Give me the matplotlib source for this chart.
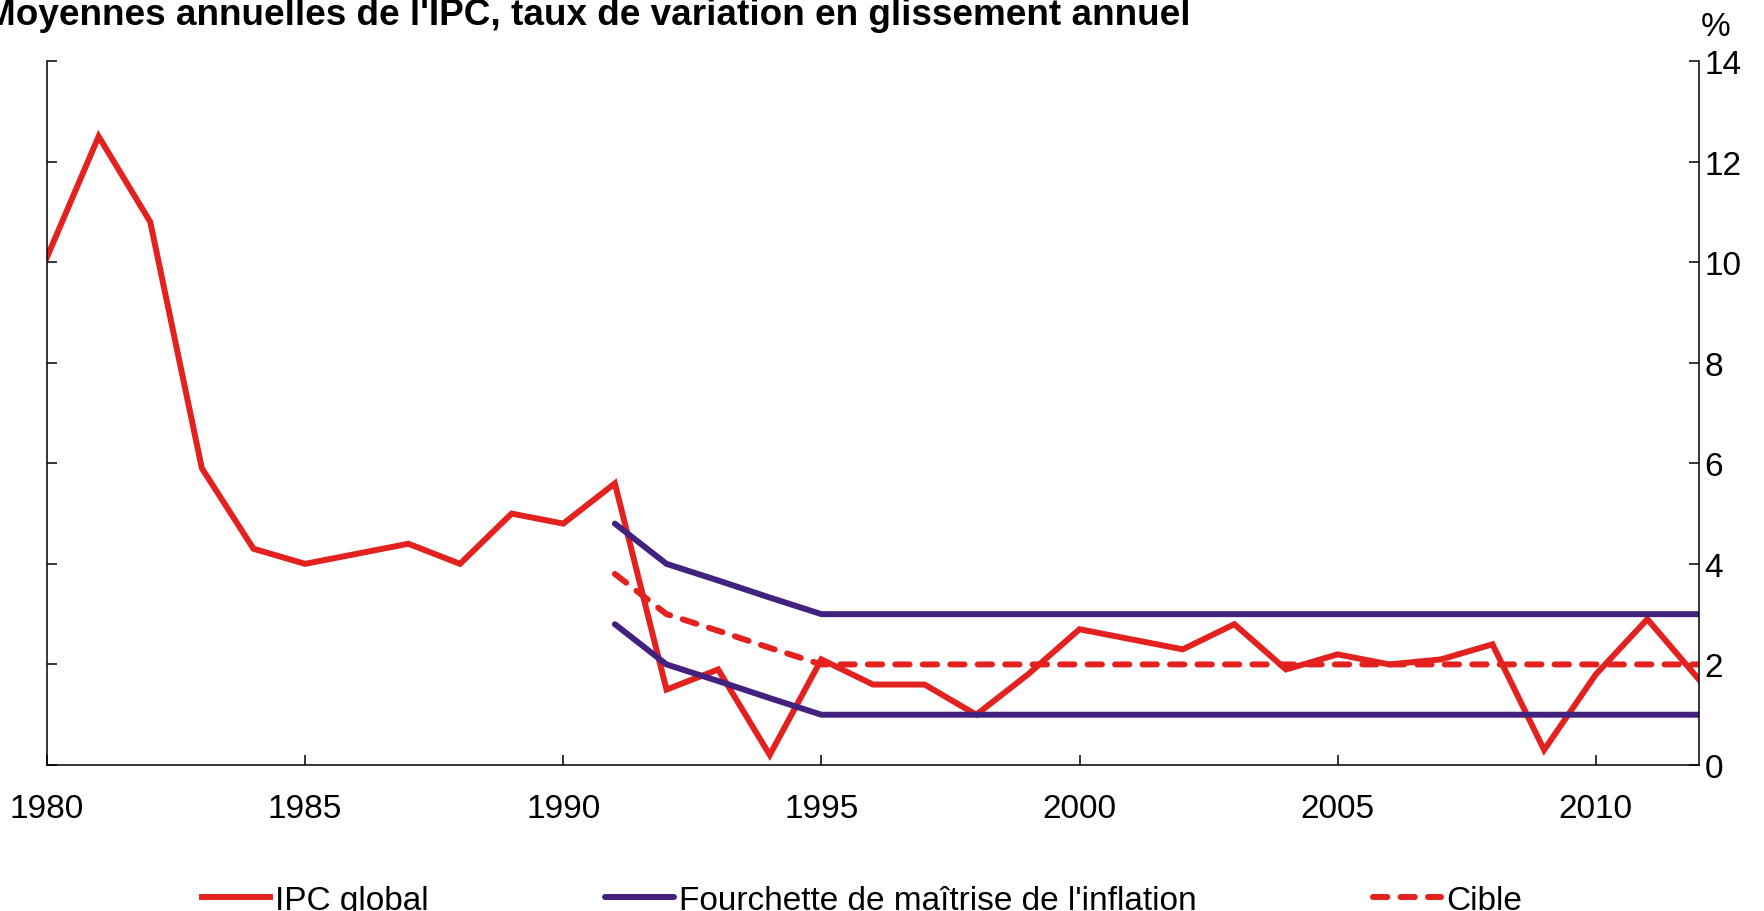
import matplotlib
matplotlib.use('Agg')
import matplotlib.pyplot as plt

years = list(range(1980, 2013))
ipc = [10.1, 12.5, 10.8, 5.9, 4.3, 4.0, 4.2, 4.4, 4.0, 5.0, 4.8, 5.6,
       1.5, 1.9, 0.2, 2.1, 1.6, 1.6, 1.0, 1.8, 2.7, 2.5, 2.3, 2.8,
       1.9, 2.2, 2.0, 2.1, 2.4, 0.3, 1.8, 2.9, 1.7]

band_years = list(range(1991, 2013))
upper = [4.8, 4.0, 3.67, 3.33] + [3.0] * 18
lower = [2.8, 2.0, 1.67, 1.33] + [1.0] * 18
cible = [3.8, 3.0, 2.67, 2.33] + [2.0] * 18

red = '#e3211f'
purple = '#43227f'

plt.rcParams['font.family'] = ['Liberation Sans', 'DejaVu Sans']

fig = plt.figure(figsize=(17.64, 9.12), dpi=100)
ax = fig.add_axes([47 / 1764, 146 / 912, (1699 - 47) / 1764, (766 - 62) / 912])

lw = 4.3
ax.plot(years, ipc, color=red, lw=lw, label='IPC global', solid_joinstyle='miter')
ax.plot(band_years, upper, color=purple, lw=lw, label="Fourchette de maîtrise de l'inflation",
        solid_capstyle='round')
ax.plot(band_years, lower, color=purple, lw=lw, solid_capstyle='round')
ax.plot(band_years, cible, color=red, lw=lw, dashes=(2.4, 2.2), dash_capstyle='round',
        label='Cible')

ax.set_xlim(1980, 2012)
ax.set_ylim(0, 14)
ax.set_xticks(range(1980, 2011, 5))
ax.set_yticks(range(0, 15, 2))

ax.spines['top'].set_visible(False)
for s in ['left', 'right', 'bottom']:
    ax.spines[s].set_linewidth(1.1)

ax.tick_params(axis='x', direction='in', length=7, width=1.1, labelsize=24, pad=20)
ax.tick_params(axis='y', direction='in', length=7, width=1.1, labelsize=24, pad=4,
               left=True, right=True, labelleft=False, labelright=True)

fig.text(-15 / 1764, 1 - 25 / 912, "Moyennes annuelles de l'IPC, taux de variation en glissement annuel",
         fontsize=26.6, fontweight='bold', ha='left', va='baseline')
fig.text(1716 / 1764, 1 - 27 / 912, '%', fontsize=24, ha='center', va='center')

fig.legend(loc='center', bbox_to_anchor=(862 / 1764, 0.012), ncol=3, frameon=False,
           fontsize=24, handlelength=2.05, handletextpad=0.15, columnspacing=5.3,
           borderpad=0, borderaxespad=0)

fig.savefig('out.png', dpi=100)
